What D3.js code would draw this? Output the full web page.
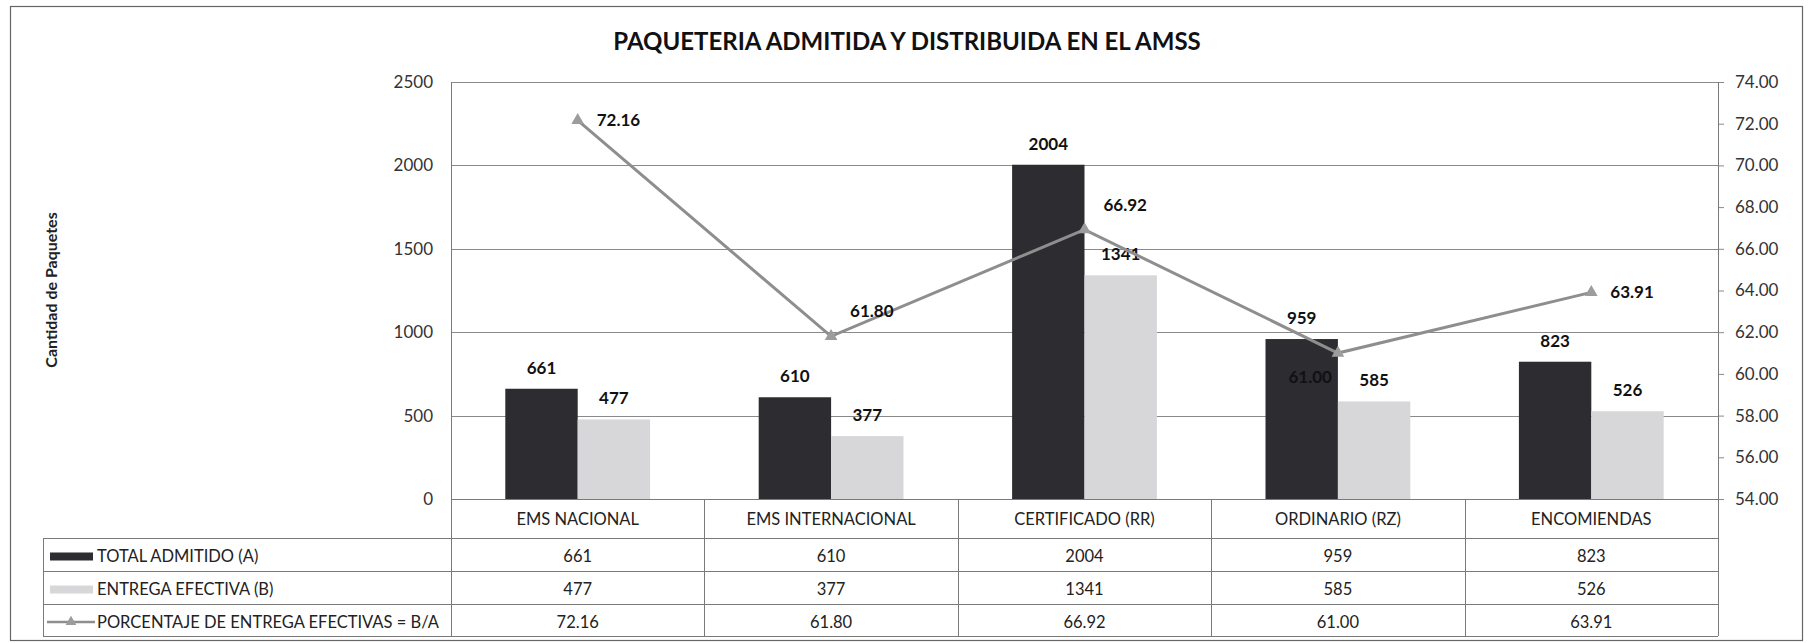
<!DOCTYPE html>
<html>
<head>
<meta charset="utf-8">
<script src="https://cdn.jsdelivr.net/npm/d3@7"></script>
<style>
  body { margin: 0; background: #fff; }
  svg text { font-family: Lato, "Open Sans", sans-serif; fill: #222; }
  .tick-label { font-size: 17px; fill: #333; }
  .val { font-size: 17px; font-weight: bold; fill: #111; }
  .cell { font-size: 16.5px; fill: #222; }
</style>
</head>
<body>
<svg width="1814" height="643"></svg>
<script>
// data
var categories = ["EMS NACIONAL", "EMS INTERNACIONAL", "CERTIFICADO (RR)", "ORDINARIO (RZ)", "ENCOMIENDAS"];
var totalAdmitido = [661, 610, 2004, 959, 823];
var entregaEfectiva = [477, 377, 1341, 585, 526];
var porcentaje = [72.16, 61.80, 66.92, 61.00, 63.91];
var seriesNames = ["TOTAL ADMITIDO (A)", "ENTREGA EFECTIVA (B)", "PORCENTAJE DE ENTREGA EFECTIVAS = B/A"];
var leftTicks = [0, 500, 1000, 1500, 2000, 2500];
var rightTicks = [54, 56, 58, 60, 62, 64, 66, 68, 70, 72, 74];
// where each percentage label sits around its marker
var pctLabelPlace = ["r", "ur", "ur", "dl", "r"];

var colA = "#2c2c31", colB = "#d7d7da", colLine = "#8e8e8e", colMarker = "#9c9c9c";
var gridCol = "#8a8a8a", tableCol = "#7a7a7a";

var svg = d3.select("svg");
var plotL = 451, plotR = 1718, plotT = 82, plotB = 499;
var tableLeft = 43;
var rows = [499, 538, 571, 604, 636];

// outer frame
svg.append("rect")
    .attr("x", 10.5).attr("y", 6.5)
    .attr("width", 1792).attr("height", 634)
    .attr("fill", "#fff").attr("stroke", "#666").attr("stroke-width", 1.2);

var x = d3.scaleBand().domain(categories).range([plotL, plotR]);
var xs = d3.scaleBand().domain([0, 1]).range([0, x.bandwidth()]).paddingInner(0).paddingOuter(0.75);
var yL = d3.scaleLinear().domain([0, 2500]).range([plotB, plotT]);
var yR = d3.scaleLinear().domain([54, 74]).range([plotB, plotT]);

// title
svg.append("text")
    .attr("x", 907).attr("y", 42).attr("dy", "0.35em")
    .attr("text-anchor", "middle")
    .style("font-size", "24px").style("font-weight", "bold").style("fill", "#111")
    .text("PAQUETERIA ADMITIDA Y DISTRIBUIDA EN EL AMSS");

// y axis title
svg.append("text")
    .attr("transform", "translate(51,290) rotate(-90)")
    .attr("text-anchor", "middle").attr("dy", "0.35em")
    .style("font-size", "16px").style("font-weight", "bold").style("fill", "#222")
    .text("Cantidad de Paquetes");

// gridlines
svg.append("g").selectAll("line")
    .data(leftTicks.filter(function(d) { return d > 0; }))
    .join("line")
    .attr("x1", plotL).attr("x2", plotR)
    .attr("y1", function(d) { return Math.round(yL(d)) + 0.5; })
    .attr("y2", function(d) { return Math.round(yL(d)) + 0.5; })
    .attr("stroke", gridCol).attr("stroke-width", 1);

// left axis labels
var gL = svg.append("g")
    .attr("transform", "translate(" + plotL + ",0)")
    .call(d3.axisLeft(yL).tickValues(leftTicks).tickSize(0).tickPadding(18).tickFormat(d3.format("d")));
gL.select(".domain").remove();
gL.selectAll("text").attr("class", "tick-label").attr("fill", null);

// right axis
var gR = svg.append("g")
    .attr("transform", "translate(" + plotR + ",0)")
    .call(d3.axisRight(yR).tickValues(rightTicks).tickSize(6).tickPadding(11).tickFormat(d3.format(".2f")));
gR.select(".domain").remove();
gR.selectAll("line").attr("stroke", gridCol);
gR.selectAll("text").attr("class", "tick-label").attr("fill", null);

// bars
var groups = svg.append("g").selectAll("g")
    .data(categories)
    .join("g")
    .attr("transform", function(d) { return "translate(" + x(d) + ",0)"; });

groups.append("rect")
    .attr("x", xs(0)).attr("width", xs.bandwidth())
    .attr("y", function(d, i) { return yL(totalAdmitido[i]); })
    .attr("height", function(d, i) { return plotB - yL(totalAdmitido[i]); })
    .attr("fill", colA);

groups.append("rect")
    .attr("x", xs(1)).attr("width", xs.bandwidth())
    .attr("y", function(d, i) { return yL(entregaEfectiva[i]); })
    .attr("height", function(d, i) { return plotB - yL(entregaEfectiva[i]); })
    .attr("fill", colB);

groups.append("text").attr("class", "val")
    .attr("x", xs(0) + xs.bandwidth() / 2)
    .attr("y", function(d, i) { return yL(totalAdmitido[i]) - 21; })
    .attr("dy", "0.35em").attr("text-anchor", "middle")
    .text(function(d, i) { return totalAdmitido[i]; });

groups.append("text").attr("class", "val")
    .attr("x", xs(1) + xs.bandwidth() / 2)
    .attr("y", function(d, i) { return yL(entregaEfectiva[i]) - 21; })
    .attr("dy", "0.35em").attr("text-anchor", "middle")
    .text(function(d, i) { return entregaEfectiva[i]; });

// percentage line
var cx = function(d, i) { return x(categories[i]) + x.bandwidth() / 2; };
var line = d3.line()
    .x(function(d, i) { return cx(d, i); })
    .y(function(d) { return yR(d); });

svg.append("path")
    .attr("d", line(porcentaje))
    .attr("fill", "none").attr("stroke", colLine).attr("stroke-width", 3);

var tri = d3.symbol().type(d3.symbolTriangle).size(70);
svg.append("g").selectAll("path")
    .data(porcentaje)
    .join("path")
    .attr("d", tri)
    .attr("transform", function(d, i) { return "translate(" + cx(d, i) + "," + yR(d) + ")"; })
    .attr("fill", colMarker);

svg.append("g").selectAll("text")
    .data(porcentaje)
    .join("text")
    .attr("class", "val")
    .attr("x", function(d, i) {
        var p = pctLabelPlace[i];
        return cx(d, i) + (p === "dl" ? -6 : 19);
    })
    .attr("y", function(d, i) {
        var p = pctLabelPlace[i];
        return yR(d) + (p === "ur" ? -25 : p === "dl" ? 24 : 0);
    })
    .attr("dy", "0.35em")
    .attr("text-anchor", function(d, i) { return pctLabelPlace[i] === "dl" ? "end" : "start"; })
    .text(function(d) { return d.toFixed(2); });

// data table
var tg = svg.append("g").attr("stroke", tableCol).attr("stroke-width", 1);
tg.append("line").attr("x1", plotL).attr("x2", plotR).attr("y1", plotB + 0.5).attr("y2", plotB + 0.5);
rows.slice(1).forEach(function(r) {
    tg.append("line").attr("x1", tableLeft).attr("x2", plotR).attr("y1", r + 0.5).attr("y2", r + 0.5);
});
tg.append("line").attr("x1", tableLeft + 0.5).attr("x2", tableLeft + 0.5).attr("y1", rows[1]).attr("y2", rows[4]);
tg.append("line").attr("x1", plotL + 0.5).attr("x2", plotL + 0.5).attr("y1", plotT).attr("y2", rows[4]);
tg.append("line").attr("x1", plotR + 0.5).attr("x2", plotR + 0.5).attr("y1", plotT).attr("y2", rows[4]);
categories.slice(1).forEach(function(c) {
    tg.append("line").attr("x1", Math.round(x(c)) + 0.5).attr("x2", Math.round(x(c)) + 0.5)
        .attr("y1", plotB).attr("y2", rows[4]);
});

// category labels
svg.append("g").selectAll("text")
    .data(categories)
    .join("text").attr("class", "cell")
    .attr("x", function(d) { return x(d) + x.bandwidth() / 2; })
    .attr("y", (rows[0] + rows[1]) / 2 + 1).attr("dy", "0.35em")
    .attr("text-anchor", "middle")
    .text(function(d) { return d; });

var tableRows = [
    totalAdmitido.map(function(v) { return String(v); }),
    entregaEfectiva.map(function(v) { return String(v); }),
    porcentaje.map(function(v) { return v.toFixed(2); })
];
tableRows.forEach(function(vals, r) {
    var yc = (rows[r + 1] + rows[r + 2]) / 2 + 2;
    svg.append("g").selectAll("text")
        .data(vals)
        .join("text").attr("class", "cell")
        .attr("x", function(d, i) { return x(categories[i]) + x.bandwidth() / 2; })
        .attr("y", yc).attr("dy", "0.35em")
        .attr("text-anchor", "middle")
        .text(function(d) { return d; });
    svg.append("text").attr("class", "cell")
        .attr("x", 97).attr("y", yc).attr("dy", "0.35em")
        .text(seriesNames[r]);
});

// legend keys inside the table
var k1 = (rows[1] + rows[2]) / 2 + 2, k2 = (rows[2] + rows[3]) / 2 + 2, k3 = (rows[3] + rows[4]) / 2 + 2;
svg.append("rect").attr("x", 50).attr("y", k1 - 4).attr("width", 43).attr("height", 8).attr("fill", colA);
svg.append("rect").attr("x", 50).attr("y", k2 - 4).attr("width", 43).attr("height", 8).attr("fill", colB);
svg.append("line").attr("x1", 47).attr("x2", 95).attr("y1", k3).attr("y2", k3)
    .attr("stroke", colLine).attr("stroke-width", 2.5);
svg.append("path").attr("d", d3.symbol().type(d3.symbolTriangle).size(50))
    .attr("transform", "translate(71," + k3 + ")").attr("fill", colMarker);
</script>
</body>
</html>
